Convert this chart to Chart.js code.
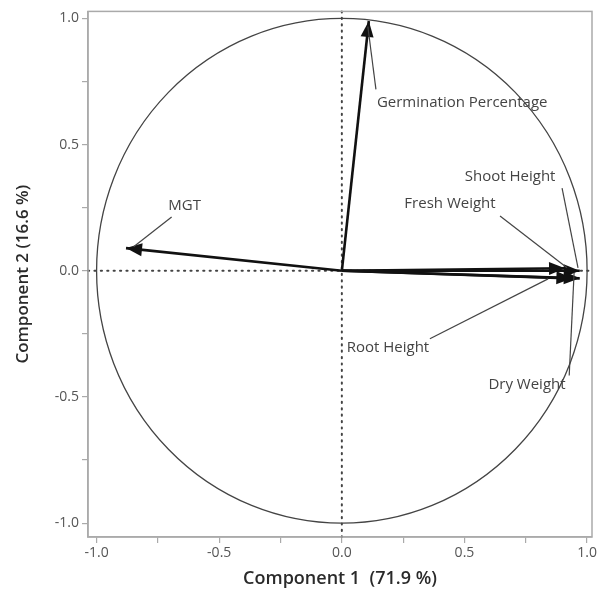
<!DOCTYPE html>
<html>
<head>
<meta charset="utf-8">
<script src="https://cdn.jsdelivr.net/npm/chart.js@4/dist/chart.umd.min.js"></script>
<style>
  html,body{margin:0;padding:0;background:#fff;}
  #wrap{width:600px;height:594px;}
</style>
</head>
<body>
<div id="wrap"><canvas id="c" width="600" height="594"></canvas></div>
<script>
// ---- data ----
const variables = ["Germination Percentage","MGT","Shoot Height","Fresh Weight","Root Height","Dry Weight"];
const comp1 = [0.11, -0.88, 0.97, 0.91, 0.94, 0.97];
const comp2 = [0.99, 0.09, 0.00, 0.01, -0.03, -0.03];
const tickValues = [-1.0, -0.75, -0.5, -0.25, 0.0, 0.25, 0.5, 0.75, 1.0];
const majorTicks = [-1.0, -0.5, 0.0, 0.5, 1.0];
const xTitle = "Component 1  (71.9 %)";
const yTitle = "Component 2 (16.6 %)";

// ---- label placement (data coordinates) ----
const labelPos = [
  {x:0.143, y:0.668, align:'left',  from:[0.139,0.719], to:[0.106,0.968]},
  {x:-0.641,y:0.257, align:'center',from:[-0.694,0.213],to:[-0.849,0.095]},
  {x:0.686, y:0.372, align:'center',from:[0.898,0.328], to:[0.963,0.012]},
  {x:0.441, y:0.265, align:'center',from:[0.645,0.217], to:[0.918,0.012]},
  {x:0.188, y:-0.304,align:'center',from:[0.359,-0.269],to:[0.841,-0.032]},
  {x:0.755, y:-0.451,align:'center',from:[0.927,-0.415],to:[0.947,-0.008]}
];

const FONT = "'Open Sans', 'Noto Sans', sans-serif";

const datasets = variables.map((v,i)=>({
  label: v,
  data: [{x:0,y:0},{x:comp1[i],y:comp2[i]}],
  showLine: true,
  borderColor: '#111',
  borderWidth: 2.6,
  pointRadius: 0,
  fill: false
}));

const biplot = {
  id: 'biplot',
  beforeDatasetsDraw(chart){
    const {ctx, chartArea:a, scales:{x,y}} = chart;
    ctx.save();
    const cx = x.getPixelForValue(0), cy = y.getPixelForValue(0);
    const rx = x.getPixelForValue(1) - cx, ry = cy - y.getPixelForValue(1);
    ctx.beginPath();
    ctx.ellipse(cx, cy, rx, ry, 0, 0, Math.PI*2);
    ctx.strokeStyle = '#444';
    ctx.lineWidth = 1.3;
    ctx.stroke();
    ctx.setLineDash([1.2,5.2]);
    ctx.lineWidth = 2;
    ctx.lineCap = 'round';
    ctx.strokeStyle = '#444';
    ctx.beginPath();
    ctx.moveTo(a.left, cy); ctx.lineTo(a.right, cy);
    ctx.moveTo(cx, a.top); ctx.lineTo(cx, a.bottom);
    ctx.stroke();
    ctx.setLineDash([]);
    ctx.restore();
  },
  afterDatasetsDraw(chart){
    const {ctx, chartArea:a, scales:{x,y}} = chart;
    ctx.save();
    variables.forEach((v,i)=>{
      const x0 = x.getPixelForValue(0), y0 = y.getPixelForValue(0);
      const x1 = x.getPixelForValue(comp1[i]), y1 = y.getPixelForValue(comp2[i]);
      const ang = Math.atan2(y1-y0, x1-x0);
      const L = 16, W = 6.5;
      ctx.beginPath();
      ctx.moveTo(x1, y1);
      ctx.lineTo(x1 - L*Math.cos(ang) + W*Math.sin(ang), y1 - L*Math.sin(ang) - W*Math.cos(ang));
      ctx.lineTo(x1 - L*Math.cos(ang) - W*Math.sin(ang), y1 - L*Math.sin(ang) + W*Math.cos(ang));
      ctx.closePath();
      ctx.fillStyle = '#111';
      ctx.fill();
    });
    ctx.strokeStyle = '#444';
    ctx.lineWidth = 1.2;
    ctx.font = "15px " + FONT;
    ctx.fillStyle = '#444';
    ctx.textBaseline = 'middle';
    labelPos.forEach((p,i)=>{
      ctx.beginPath();
      ctx.moveTo(x.getPixelForValue(p.from[0]), y.getPixelForValue(p.from[1]));
      ctx.lineTo(x.getPixelForValue(p.to[0]), y.getPixelForValue(p.to[1]));
      ctx.stroke();
      ctx.textAlign = p.align;
      ctx.fillText(variables[i], x.getPixelForValue(p.x), y.getPixelForValue(p.y));
    });
    ctx.strokeStyle = '#aaa';
    ctx.lineWidth = 1.5;
    ctx.strokeRect(a.left, a.top, a.right - a.left, a.bottom - a.top);
    ctx.restore();
  }
};

function tickCb(v){
  return majorTicks.some(m=>Math.abs(m-v)<1e-9) ? Number(v).toFixed(1) : '';
}

new Chart(document.getElementById('c'), {
  type: 'scatter',
  data: { datasets },
  options: {
    responsive: false,
    animation: false,
    layout: { padding: { top: 10, right: 8, left: 0, bottom: 0 } },
    plugins: { legend: {display:false}, tooltip: {enabled:false} },
    scales: {
      x: {
        type: 'linear', min: -1.035, max: 1.02,
        afterBuildTicks(s){ s.ticks = tickValues.map(v=>({value:v})); },
        afterFit(s){ s.height = 57; },
        grid: { drawOnChartArea:false, drawTicks:true, tickLength:6, color:'#aaa', lineWidth:1.2 },
        border: { color:'#aaa', width:1.5 },
        ticks: { callback: tickCb, color:'#555', font:{family:FONT, size:14}, padding:2, maxRotation:0, autoSkip:false },
        title: { display:true, text:xTitle, color:'#2a2a2a', font:{family:FONT, size:18, weight:'600'}, padding:{top:0} }
      },
      y: {
        type: 'linear', min: -1.055, max: 1.028,
        afterBuildTicks(s){ s.ticks = tickValues.map(v=>({value:v})); },
        afterFit(s){ s.width = 88; },
        grid: { drawOnChartArea:false, drawTicks:true, tickLength:6, color:'#aaa', lineWidth:1.2 },
        border: { color:'#aaa', width:1.5 },
        ticks: { callback: tickCb, color:'#555', font:{family:FONT, size:14}, padding:3, autoSkip:false },
        title: { display:true, text:yTitle, color:'#2a2a2a', font:{family:FONT, size:17, weight:'600'}, padding:{top:13,bottom:0} }
      }
    }
  },
  plugins: [biplot]
});
</script>
</body>
</html>
